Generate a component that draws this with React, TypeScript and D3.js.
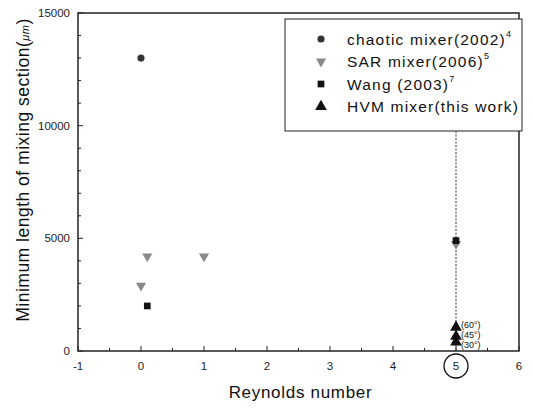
import React, { useEffect, useRef } from 'react';
import * as d3 from 'd3';

// points (Reynolds number, length in um)
const chaoticX = [0];
const chaoticY = [13000];
const sarX = [0, 0.1, 1, 5];
const sarY = [2900, 4200, 4200, 4750];
const wangX = [0.1, 5];
const wangY = [2000, 4900];
const hvmX = [5, 5, 5];
const hvmY = [1050, 650, 400];
const hvmAngles = ['(60°)', '(45°)', '(30°)'];

const xTicks = [-1, 0, 1, 2, 3, 4, 5, 6];
const yTicks = [0, 5000, 10000, 15000];

const legendItems = [
  { label: 'chaotic mixer(2002)', sup: '4', shape: 'circle' },
  { label: 'SAR mixer(2006)', sup: '5', shape: 'down' },
  { label: 'Wang (2003)', sup: '7', shape: 'square' },
  { label: 'HVM mixer(this work)', sup: '', shape: 'up' },
];

const W = 533, H = 411;
const margin = { left: 78, right: 14, top: 13, bottom: 60 };
const font = 'Arial, "Liberation Sans", sans-serif';

export default function App() {
  const ref = useRef<SVGSVGElement>(null);

  useEffect(() => {
    const svg = d3.select(ref.current);
    svg.selectAll('*').remove();

    const x = d3.scaleLinear().domain([-1, 6]).range([margin.left, W - margin.right]);
    const y = d3.scaleLinear().domain([0, 15000]).range([H - margin.bottom, margin.top]);

    const g = svg.append('g');

    // frame
    g.append('rect')
      .attr('x', x(-1)).attr('y', y(15000))
      .attr('width', x(6) - x(-1)).attr('height', y(0) - y(15000))
      .attr('fill', 'none').attr('stroke', '#222').attr('stroke-width', 1.5);

    // y ticks (inward)
    const yMinor = d3.range(0, 15001, 1000);
    g.selectAll('.ytick').data(yMinor).enter().append('line')
      .attr('x1', x(-1)).attr('x2', (d) => x(-1) + (d % 5000 === 0 ? 5 : 3))
      .attr('y1', (d) => y(d)).attr('y2', (d) => y(d))
      .attr('stroke', '#222');
    g.selectAll('.ylab').data(yTicks).enter().append('text')
      .attr('x', x(-1) - 8).attr('y', (d) => y(d) + 4)
      .attr('text-anchor', 'end').attr('font-family', font).attr('font-size', 11.5)
      .attr('fill', '#222').text((d) => d);

    // x ticks (inward)
    const xMinor = d3.range(-1, 6.01, 0.5);
    g.selectAll('.xtick').data(xMinor).enter().append('line')
      .attr('x1', (d) => x(d)).attr('x2', (d) => x(d))
      .attr('y1', y(0)).attr('y2', (d) => y(0) - (Number.isInteger(d) ? 5 : 3))
      .attr('stroke', '#222');
    g.selectAll('.xlab').data(xTicks).enter().append('text')
      .attr('x', (d) => x(d)).attr('y', y(0) + 19)
      .attr('text-anchor', 'middle').attr('font-family', font).attr('font-size', 11.5)
      .attr('fill', '#222').text((d) => d);

    // circle around 5
    g.append('circle').attr('cx', x(5)).attr('cy', y(0) + 15).attr('r', 12)
      .attr('fill', 'none').attr('stroke', '#111').attr('stroke-width', 1.3);

    // axis titles
    g.append('text')
      .attr('x', (x(-1) + x(6)) / 2 + 2).attr('y', H - 13)
      .attr('text-anchor', 'middle').attr('font-family', font).attr('font-size', 17)
      .attr('letter-spacing', 0.7).attr('fill', '#111').text('Reynolds number');

    const yl = g.append('text')
      .attr('transform', `translate(29,170) rotate(-90)`)
      .attr('text-anchor', 'middle').attr('font-family', font).attr('font-size', 17.5)
      .attr('letter-spacing', 0.5).attr('fill', '#111');
    yl.append('tspan').text('Minimum length of mixing section(');
    yl.append('tspan').attr('font-style', 'italic').attr('font-size', 11).text('μm');
    yl.append('tspan').text(')');

    // legend box
    const lx = 285, ly = 19, lw = 522 - 285, lh = 112;
    g.append('rect').attr('x', lx).attr('y', ly).attr('width', lw).attr('height', lh)
      .attr('fill', 'white').attr('stroke', '#222').attr('stroke-width', 1);

    // dashed line at Re = 5
    g.append('line')
      .attr('x1', x(5)).attr('x2', x(5)).attr('y1', ly + lh).attr('y2', y(0))
      .attr('stroke', '#333').attr('stroke-width', 1).attr('stroke-dasharray', '2,1.5');

    const sym = (shape: string, size: number) => {
      const t = shape === 'circle' ? d3.symbolCircle : shape === 'square' ? d3.symbolSquare : d3.symbolTriangle;
      return d3.symbol().type(t).size(size)();
    };
    const rot = (shape: string) => (shape === 'down' ? ' rotate(180)' : '');
    const col = (shape: string) => (shape === 'down' ? '#8a8a8a' : shape === 'circle' ? '#333' : '#111');
    const sz = (shape: string) => (shape === 'up' ? 60 : shape === 'circle' ? 40 : 45);

    legendItems.forEach((it, i) => {
      const yy = ly + 20 + i * 22.5;
      g.append('path').attr('d', sym(it.shape, sz(it.shape)))
        .attr('transform', `translate(${321},${yy})${rot(it.shape)}`)
        .attr('fill', col(it.shape));
      const t = g.append('text').attr('x', 347).attr('y', yy + 5.5)
        .attr('font-family', font).attr('font-size', 15.5).attr('letter-spacing', 1.2)
        .attr('fill', '#111');
      t.append('tspan').text(it.label);
      if (it.sup) t.append('tspan').attr('font-size', 9).attr('dy', -8).text(it.sup);
    });

    const pts = (xs: number[], ys: number[], shape: string) => {
      g.selectAll('.p' + shape).data(xs).enter().append('path')
        .attr('d', sym(shape, sz(shape)))
        .attr('transform', (d, i) => `translate(${x(d)},${y(ys[i])})${rot(shape)}`)
        .attr('fill', col(shape));
    };
    pts(chaoticX, chaoticY, 'circle');
    pts(sarX, sarY, 'down');
    pts(wangX, wangY, 'square');
    pts(hvmX, hvmY, 'up');

    g.selectAll('.ang').data(hvmAngles).enter().append('text')
      .attr('x', x(5) + 5).attr('y', (d, i) => y(0) - 23 + i * 10)
      .attr('font-family', font).attr('font-size', 9).attr('fill', '#111').text((d) => d);
  }, []);

  return <svg ref={ref} width={W} height={H} style={{ display: 'block', margin: -8 }} />;
}
